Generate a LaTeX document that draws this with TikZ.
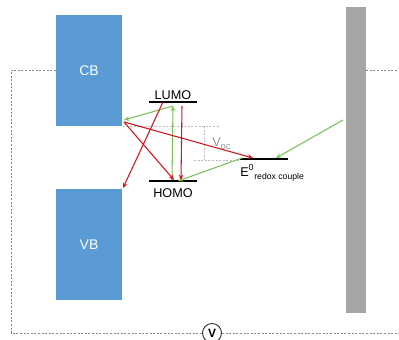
\documentclass[tikz,border=0pt]{standalone}
\usepackage{fontspec}
\setmainfont{Liberation Sans}
\usetikzlibrary{arrows.meta}
\definecolor{cbblue}{HTML}{5B9BD5}
\definecolor{bargray}{HTML}{A6A6A6}
\definecolor{arrred}{HTML}{D0151B}
\definecolor{arrgreen}{HTML}{7DBF5A}
\definecolor{guide}{HTML}{BBBBBB}
\definecolor{circ}{HTML}{888888}
\tikzset{
  band/.style={fill=cbblue, draw=none, inner sep=0pt, font=\fontsize{10.5}{12}\selectfont, text=white},
  level/.style={line width=1pt, black},
  redarr/.style={arrred, line width=0.8pt, -{Stealth[length=4pt,width=3.5pt]}},
  greenarr/.style={arrgreen, line width=0.8pt, -{Stealth[length=4pt,width=3.5pt]}},
  wire/.style={circ, line width=0.6pt, dash pattern=on 1.5pt off 1.2pt},
  guideline/.style={guide, line width=0.5pt, dash pattern=on 1.5pt off 1.2pt},
  lbl/.style={font=\fontsize{9.5}{11}\selectfont, inner sep=0pt}
}
\begin{document}
\begin{tikzpicture}[x=0.75pt,y=-0.75pt]
\useasboundingbox (0,0) rectangle (399,339);
% bands
\node[band, minimum width=66*0.75pt, minimum height=111*0.75pt] (cb) at (89,70.5) {CB};
\node[band, minimum width=66*0.75pt, minimum height=111*0.75pt] (vb) at (89,244.5) {VB};
% counter electrode
\node[fill=bargray, draw=none, inner sep=0pt, minimum width=20*0.75pt, minimum height=306*0.75pt] (bar) at (356,160) {};
% circuit
\node[draw=black!80, circle, line width=0.7pt, minimum size=19*0.75pt, inner sep=0pt, font=\bfseries\fontsize{9}{10}\selectfont] (v) at (212,333) {V};
\coordinate (w1) at (11,70);
\coordinate (w2) at (11,333);
\coordinate (w3) at (399,333);
\coordinate (w4) at (399,70);
\draw[wire] (cb.west |- w1) -- (w1) -- (w2) -- (v.west);
\draw[wire] (v.east) -- (w3);
\draw[wire] (bar.east |- w4) -- (w4);
% energy levels
\coordinate (lumoA) at (149,102); \coordinate (lumoB) at (197,102);
\coordinate (homoA) at (149,181); \coordinate (homoB) at (197,181);
\coordinate (eA) at (240,159); \coordinate (eB) at (288,159);
\draw[level] (lumoA) -- (lumoB);
\draw[level] (homoA) -- (homoB);
\draw[level] (eA) -- (eB);
\node[lbl, anchor=base] (lumo) at (173,99) {LUMO};
\node[lbl, anchor=base] (homo) at (173,197) {HOMO};
\node[lbl, anchor=base west] (redox) at (240,176) {E\textsuperscript{0}\raisebox{-2.5pt}{\fontsize{6.5}{7}\selectfont redox couple}};
% guides
\coordinate (g1) at (123,126); \coordinate (g2) at (220,126);
\coordinate (g3) at (194,160); \coordinate (g4) at (240,160);
\coordinate (g5) at (204,126); \coordinate (g6) at (204,160);
\draw[guideline] (g1) -- (g2);
\draw[guideline] (g3) -- (g4);
\draw[guideline] (g5) -- (g6);
\node[lbl, text=guide!80!black, anchor=base west] (voc) at (212,146) {V\raisebox{-2.5pt}{\fontsize{7}{8}\selectfont oc}};
% arrow points
\coordinate (hg) at (172,180); \coordinate (lg) at (173,106);
\coordinate (cbg) at (124,120);
\coordinate (eg) at (242,158); \coordinate (hg2) at (178,181);
\coordinate (barg) at (343,120); \coordinate (eg2) at (276,158);
\coordinate (lr) at (163,102); \coordinate (vbr) at (123,188);
\coordinate (lr2) at (182,106); \coordinate (hr2) at (181,180);
\coordinate (cbr) at (124,122); \coordinate (hr) at (174,180);
\coordinate (er) at (253,158);
% green arrows
\draw[greenarr] (hg) -- (lg);
\draw[greenarr] (lg) -- (cbg);
\draw[greenarr] (eg) -- (hg2);
\draw[greenarr] (barg) -- (eg2);
% red arrows
\draw[redarr] (lr) -- (vbr);
\draw[redarr] (lr2) -- (hr2);
\draw[redarr] (cbr) -- (hr);
\draw[redarr] (cbr) -- (er);
\end{tikzpicture}
\end{document}
